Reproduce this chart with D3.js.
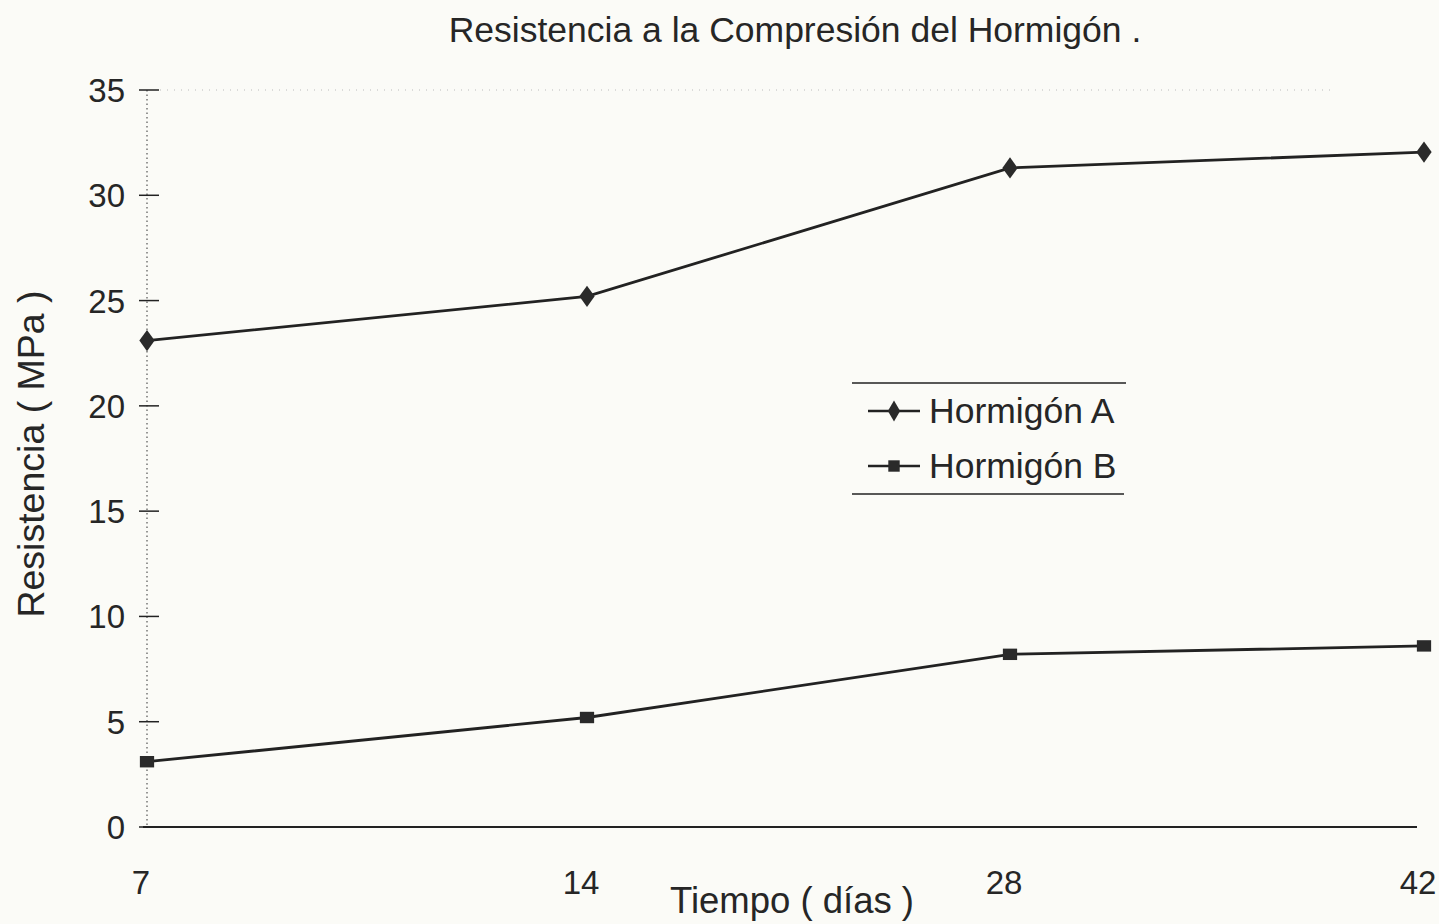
<!DOCTYPE html>
<html>
<head>
<meta charset="utf-8">
<script src="https://cdn.jsdelivr.net/npm/d3@7"></script>
<style>
  html, body { margin: 0; padding: 0; background: #fbfbf7; }
  svg { display: block; }
  text { font-family: "Liberation Sans", Arial, sans-serif; fill: #262626; }
</style>
</head>
<body>
<svg id="chart" width="1439" height="924"></svg>
<script>
// data
var days = ["7", "14", "28", "42"];
var hormigonA = [23.1, 25.2, 31.3, 32.05];
var hormigonB = [3.1, 5.2, 8.2, 8.6];
var yTicks = [0, 5, 10, 15, 20, 25, 30, 35];
var seriesNames = ["Hormigón A", "Hormigón B"];

var
  width = 1439,
  height = 924,
  ink = "#222",
  svg = d3.select("#chart");

// category axis; the scan is slightly uneven so the positions are piecewise
var xi = d3.scaleLinear().domain([0, 1, 2, 3]).range([147, 587, 1010, 1424]);
var x = d => xi(days.indexOf(d));
var y = d3.scaleLinear().domain([0, 35]).range([827, 90]);

// title
svg.append("text")
  .attr("x", 795).attr("y", 42)
  .attr("text-anchor", "middle")
  .style("font-size", "35.5px")
  .text("Resistencia a la Compresión del Hormigón .");

// faint dotted line along the top of the plot
svg.append("line")
  .attr("x1", 160).attr("x2", 1330)
  .attr("y1", y(35)).attr("y2", y(35))
  .attr("stroke", "#bbb").attr("stroke-width", 1)
  .attr("stroke-dasharray", "1,6");

// y axis: dotted spine, cross ticks
var yAxis = svg.append("g").attr("transform", "translate(147,0)");
yAxis.append("line")
  .attr("y1", y(35)).attr("y2", y(0))
  .attr("stroke", "#555").attr("stroke-width", 1.2)
  .attr("stroke-dasharray", "1.5,3");
yAxis.selectAll(".tick").data(yTicks).enter().append("line")
  .attr("x1", -8).attr("x2", 12)
  .attr("y1", d => y(d)).attr("y2", d => y(d))
  .attr("stroke", ink).attr("stroke-width", 1.5);
yAxis.selectAll(".lab").data(yTicks).enter().append("text")
  .attr("x", -22).attr("y", d => y(d) + 12)
  .attr("text-anchor", "end")
  .style("font-size", "33px")
  .text(d => d);

// x axis
svg.append("line")
  .attr("x1", 143).attr("x2", 1417)
  .attr("y1", y(0)).attr("y2", y(0))
  .attr("stroke", ink).attr("stroke-width", 2);
svg.selectAll(".xlab").data(days).enter().append("text")
  .attr("x", d => x(d) - 6).attr("y", 894)
  .attr("text-anchor", "middle")
  .style("font-size", "33px")
  .text(d => d);

// axis titles
svg.append("text")
  .attr("x", 792).attr("y", 913)
  .attr("text-anchor", "middle")
  .style("font-size", "36.5px")
  .text("Tiempo  ( días )");
svg.append("text")
  .attr("transform", "translate(44,454) rotate(-90)")
  .attr("text-anchor", "middle")
  .style("font-size", "37.5px")
  .text("Resistencia ( MPa )");

// series
var line = d3.line().x((d, i) => x(days[i])).y(d => y(d));
var diamond = d3.symbol().type(d3.symbolDiamond).size(130);
var square = d3.symbol().type(d3.symbolSquare).size(130);

[hormigonA, hormigonB].forEach(function(vals, k) {
  svg.append("path")
    .attr("d", line(vals))
    .attr("fill", "none")
    .attr("stroke", ink).attr("stroke-width", 2.8);
  svg.selectAll(".m" + k).data(vals).enter().append("path")
    .attr("transform", (d, i) => "translate(" + x(days[i]) + "," + y(d) + ") scale(1.25,1)")
    .attr("d", k == 0 ? diamond : square)
    .attr("fill", "#2a2a2a");
});

// legend
var leg = svg.append("g");
leg.append("line").attr("x1", 852).attr("x2", 1126).attr("y1", 383).attr("y2", 383)
  .attr("stroke", ink).attr("stroke-width", 1.6);
leg.append("line").attr("x1", 852).attr("x2", 1124).attr("y1", 494).attr("y2", 494)
  .attr("stroke", ink).attr("stroke-width", 1.6);
seriesNames.forEach(function(name, k) {
  var ly = 411 + k * 55;
  leg.append("line").attr("x1", 868).attr("x2", 920).attr("y1", ly).attr("y2", ly)
    .attr("stroke", ink).attr("stroke-width", 2.4);
  leg.append("path")
    .attr("transform", "translate(894," + ly + ")")
    .attr("d", k == 0 ? diamond : square)
    .attr("fill", "#2a2a2a");
  leg.append("text")
    .attr("x", 929).attr("y", ly + 12)
    .style("font-size", "35.5px")
    .text(name);
});
</script>
</body>
</html>
